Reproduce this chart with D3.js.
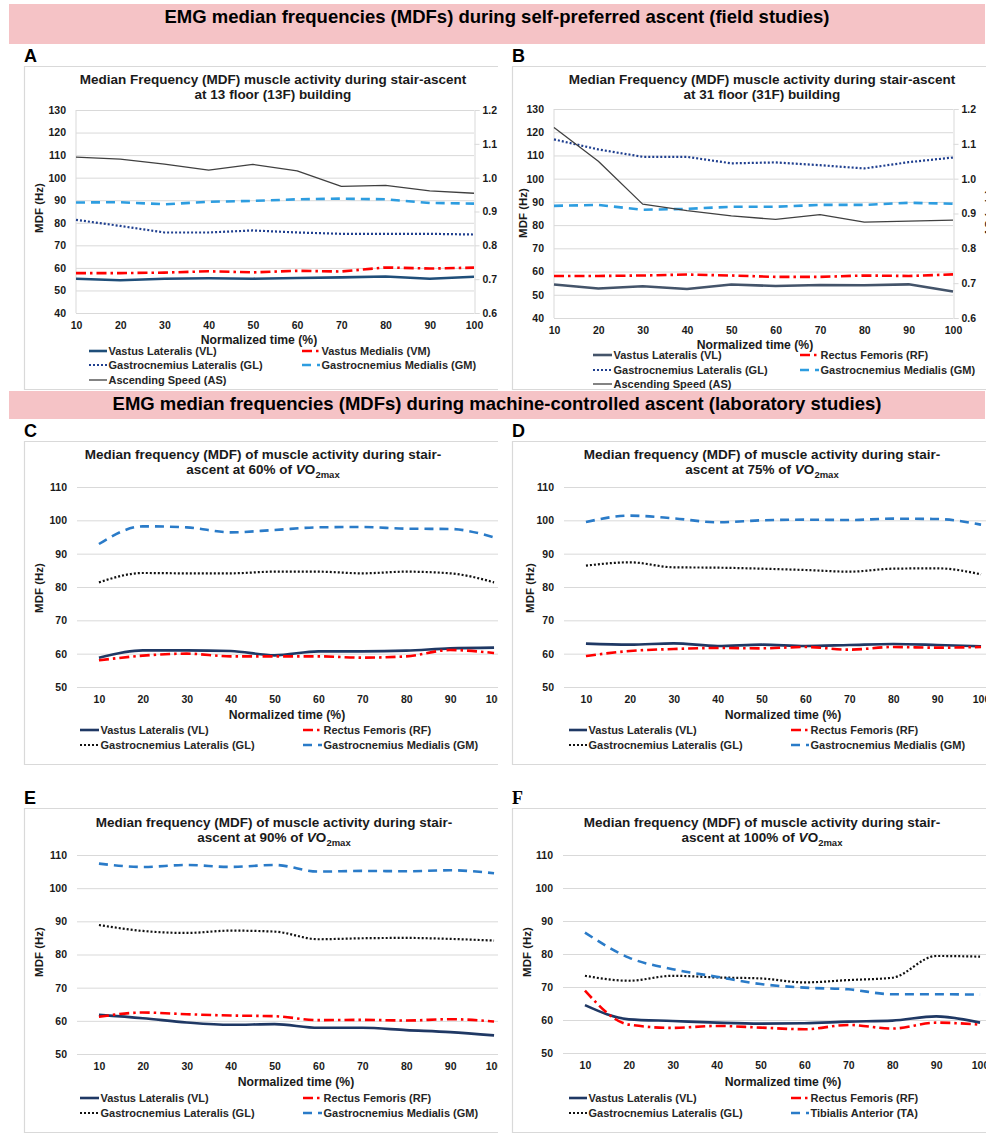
<!DOCTYPE html>
<html><head><meta charset="utf-8">
<script src="https://cdn.jsdelivr.net/npm/d3@7"></script>
<style>
body{margin:0;background:#fff}
text{font-family:"Liberation Sans",Arial,sans-serif;font-weight:bold}
</style>
</head><body><svg id="chart" width="995" height="1135"></svg>
<script>
// ---------- data ----------
const times = [10,20,30,40,50,60,70,80,90,100];
const fieldTicks = [40,50,60,70,80,90,100,110,120,130];
const speedTicks = [0.6,0.7,0.8,0.9,1.0,1.1,1.2];
const labTicks = [50,60,70,80,90,100,110];

// A: 13F building
const aVL = [55.2,54.5,55.2,55.4,55.2,55.5,55.8,56.2,55.2,56.1];
const aVM = [57.7,57.7,57.9,58.5,58.0,58.7,58.4,60.2,59.7,60.1];
const aGL = [81.3,78.6,75.7,75.7,76.6,75.7,75.1,75.1,75.1,74.8];
const aGM = [89.0,89.1,88.2,89.3,89.7,90.4,90.7,90.4,88.8,88.5];
const aAS = [1.061,1.055,1.040,1.022,1.039,1.020,0.974,0.977,0.961,0.954];
// B: 31F building
const bVL = [54.4,52.7,53.7,52.5,54.4,53.8,54.2,54.1,54.5,51.4];
const bRF = [58.1,58.1,58.3,58.7,58.3,57.7,57.7,58.3,58.1,58.8];
const bGL = [116.9,112.6,109.4,109.4,106.6,107.0,105.8,104.4,107.1,109.1];
const bGM = [88.3,88.7,86.6,87.0,87.9,87.9,88.7,88.7,89.6,89.2];
const bAS = [1.147,1.050,0.927,0.908,0.893,0.883,0.897,0.875,0.878,0.881];
// C: 60% VO2max
const cVL = [58.8,61.0,61.0,60.8,59.5,60.7,60.7,60.9,61.6,61.8];
const cRF = [58.0,59.4,60.0,59.2,59.2,59.2,58.8,59.2,61.1,60.2];
const cGL = [81.4,84.2,84.1,84.1,84.6,84.6,84.1,84.6,84.1,81.4];
const cGM = [92.9,98.2,97.9,96.4,97.1,97.9,98.0,97.5,97.4,94.9];
// D: 75% VO2max
const dVL = [63.0,62.7,63.1,62.3,62.7,62.3,62.6,62.9,62.6,62.2];
const dRF = [59.3,60.8,61.4,61.7,61.6,62.0,61.2,62.0,61.8,62.0];
const dGL = [86.4,87.4,85.9,85.8,85.5,85.1,84.6,85.5,85.6,83.8];
const dGM = [99.5,101.4,100.6,99.4,100.0,100.2,100.1,100.5,100.4,98.7];
// E: 90% VO2max
const eVL = [61.8,60.8,59.5,58.8,59.0,57.9,57.9,57.2,56.6,55.6];
const eRF = [61.2,62.5,62.0,61.6,61.4,60.2,60.3,60.1,60.5,59.8];
const eGL = [88.9,87.1,86.5,87.2,86.9,84.6,84.9,85.0,84.7,84.2];
const eGM = [107.4,106.4,107.0,106.4,107.0,105.0,105.2,105.1,105.4,104.5];
// F: 100% VO2max
const fVL = [64.5,60.2,59.7,59.2,58.9,59.0,59.5,59.8,61.1,59.2];
const fRF = [68.9,58.6,57.6,58.2,57.7,57.2,58.5,57.4,59.2,58.6];
const fGL = [73.4,71.9,73.4,72.9,72.6,71.4,72.1,72.8,79.4,79.2];
const fTA = [86.5,78.9,75.4,73.1,70.9,69.8,69.3,67.8,67.8,67.7];

const bannerTexts = [
  "EMG median frequencies (MDFs) during self-preferred ascent (field studies)",
  "EMG median frequencies (MDFs) during machine-controlled ascent (laboratory studies)"
];

// ---------- styles ----------
const ST = {
  vlA: {stroke:"#1f4e79", w:2.6, dash:null},
  vlB: {stroke:"#44546a", w:2.6, dash:null},
  vl:  {stroke:"#1f3864", w:2.6, dash:null},
  rf:  {stroke:"#ff0000", w:2.6, dash:"10,4,2.5,4"},
  glF: {stroke:"#1f3f8f", w:2.2, dash:"2,2"},
  gl:  {stroke:"#111111", w:2.2, dash:"2,2"},
  gmF: {stroke:"#2d9de0", w:2.6, dash:"9,6"},
  gm:  {stroke:"#2a7bc8", w:2.6, dash:"9,6"},
  as:  {stroke:"#404040", w:1.3, dash:null}
};
const GRID = "#d9d9d9";
const TXT = "#1a1a1a";

const svg = d3.select("#chart");
svg.append("rect").attr("width",995).attr("height",1135).attr("fill","#fff");

// banners
const banners = [{y0:4,y1:44,ty:17},{y0:391,y1:419,ty:404}];
banners.forEach((b,i)=>{
  svg.append("rect").attr("x",9).attr("y",b.y0).attr("width",976).attr("height",b.y1-b.y0).attr("fill","#f5c3c6");
  svg.append("text").attr("x",497).attr("y",b.ty).attr("dy","0.35em").attr("text-anchor","middle")
    .attr("font-size",18.5).attr("fill","#000").text(bannerTexts[i]);
});

function drawPanel(p){
  // panel letter
  svg.append("text").attr("x",p.box[0]).attr("y",p.labelY).attr("dy","0.36em")
    .attr("font-size",18).attr("fill","#000")
    .style("font-family", p.serif ? "'Liberation Serif','Times New Roman',serif" : null)
    .text(p.label);

  const cid = "clip"+p.label;
  svg.append("clipPath").attr("id",cid).append("rect")
    .attr("x",p.box[0]-1).attr("y",p.box[1]-1).attr("width",p.box[2]-p.box[0]+1).attr("height",p.box[3]-p.box[1]+2);
  const g = svg.append("g").attr("clip-path",`url(#${cid})`);

  // border (top, left, bottom)
  g.append("path")
    .attr("d",`M${p.box[2]+2},${p.box[1]+0.5}H${p.box[0]+0.5}V${p.box[3]-0.5}H${p.box[2]+2}`)
    .attr("fill","none").attr("stroke","#d9d9d9").attr("stroke-width",1.2);

  // scales
  let x;
  if(p.field){
    x = d3.scaleLinear().domain([times[0],times[times.length-1]]).range([p.xl,p.xr]);
  } else {
    x = d3.scalePoint().domain(times).range([p.xl,p.xl+p.step*times.length]).padding(0.5);
  }
  const yDom = p.field ? [fieldTicks[0],fieldTicks[fieldTicks.length-1]] : [labTicks[0],labTicks[labTicks.length-1]];
  const y = d3.scaleLinear().domain(yDom).range([p.yb,p.yt]);
  const ticks = p.field ? fieldTicks : labTicks;
  const gridR = p.field ? p.xr : p.xl+p.step*times.length;

  // gridlines
  const gridAxis = d3.axisLeft(y).tickValues(ticks).tickSize(-(gridR-p.xl)).tickFormat("");
  const gg = g.append("g").attr("transform",`translate(${p.xl},0)`).call(gridAxis);
  gg.select(".domain").remove();
  gg.selectAll("line").attr("stroke",GRID).attr("stroke-width",1);

  if(p.field){
    g.append("line").attr("x1",p.xl).attr("x2",p.xl).attr("y1",p.yt).attr("y2",p.yb).attr("stroke",GRID);
  }

  // left axis labels
  const ya = g.append("g").attr("transform",`translate(${p.xl},0)`)
    .call(d3.axisLeft(y).tickValues(ticks).tickSize(0).tickPadding(10).tickFormat(d3.format("d")));
  ya.select(".domain").remove();
  ya.selectAll("text").attr("font-size",10.5).attr("fill",TXT).style("font-family",null);

  // right axis (speed)
  let y2 = null;
  if(p.field){
    y2 = d3.scaleLinear().domain([speedTicks[0],speedTicks[speedTicks.length-1]]).range([p.yb,p.yt]);
    const ra = g.append("g").attr("transform",`translate(${p.xr+0.5},0)`)
      .call(d3.axisRight(y2).tickValues(speedTicks).tickSize(5).tickPadding(3).tickFormat(d3.format(".1f")));
    ra.select(".domain").attr("stroke",GRID);
    ra.selectAll("line").attr("stroke",GRID);
    ra.selectAll("text").attr("font-size",10.5).attr("fill",TXT).style("font-family",null);
    // secondary axis title
    g.append("text").attr("transform",`translate(${p.y2TitleX},${p.yTitleY}) rotate(-90)`)
      .attr("text-anchor","middle").attr("dy","0.35em").attr("font-size",11.5).attr("fill",TXT).text("AS (m/s)");
  }

  // x axis labels
  const xa = g.append("g").attr("transform",`translate(0,${p.yb})`)
    .call(d3.axisBottom(x).tickValues(times).tickSize(0).tickPadding(9).tickFormat(d3.format("d")));
  xa.select(".domain").remove();
  xa.selectAll("text").attr("font-size",10.5).attr("fill",TXT).style("font-family",null);

  // axis titles
  g.append("text").attr("x",p.xTitleX).attr("y",p.xTitleY).attr("dy","0.35em").attr("text-anchor","middle")
    .attr("font-size",12.2).attr("fill",TXT).text("Normalized time (%)");
  g.append("text").attr("transform",`translate(${p.yTitleX},${p.yTitleY}) rotate(-90)`)
    .attr("text-anchor","middle").attr("dy","0.35em").attr("font-size",11.5).attr("fill",TXT).text("MDF (Hz)");

  // chart title
  const t1 = g.append("text").attr("x",p.titleX).attr("y",p.titleY).attr("dy","0.35em")
    .attr("text-anchor","middle").attr("font-size",13.5).attr("fill",TXT).text(p.title1);
  const t2 = g.append("text").attr("x",p.titleX).attr("y",p.titleY+15.5).attr("dy","0.35em")
    .attr("text-anchor","middle").attr("font-size",13.5).attr("fill",TXT);
  if(p.vo2){
    t2.append("tspan").text(p.title2 + " ");
    t2.append("tspan").attr("font-style","italic").text("V");
    t2.append("tspan").text("O");
    t2.append("tspan").attr("font-size",9.5).attr("dy","0.35em").text("2max");
  } else {
    t2.text(p.title2);
  }

  // series lines
  const curve = p.field ? d3.curveLinear : d3.curveMonotoneX;
  p.series.forEach(s=>{
    const yy = s.right ? y2 : y;
    const line = d3.line().x((d,i)=>x(times[i])).y(d=>yy(d)).curve(curve);
    g.append("path").datum(s.values).attr("d",line).attr("fill","none")
      .attr("stroke",s.st.stroke).attr("stroke-width",s.st.w)
      .attr("stroke-dasharray",s.st.dash).attr("stroke-linejoin","round");
  });

  // legend
  p.series.forEach((s,i)=>{
    const col = i%2, row = Math.floor(i/2);
    const sx = p.leg.x[col], ly = p.leg.rows[row];
    g.append("line").attr("x1",sx).attr("x2",sx+p.leg.len).attr("y1",ly).attr("y2",ly)
      .attr("stroke",s.st.stroke).attr("stroke-width",s.st.w).attr("stroke-dasharray",s.st.dash);
    g.append("text").attr("x",sx+p.leg.len+1.5).attr("y",ly).attr("dy","0.35em")
      .attr("font-size",11).attr("fill","#262626").text(s.name);
  });
}

const NVL="Vastus Lateralis (VL)", NVM="Vastus Medialis (VM)", NRF="Rectus Femoris (RF)",
      NGL="Gastrocnemius Lateralis (GL)", NGM="Gastrocnemius Medialis (GM)",
      NAS="Ascending Speed (AS)", NTA="Tibialis Anterior (TA)";

const labTitle1 = "Median frequency (MDF) of muscle activity during stair-";

drawPanel({label:"A", labelY:56, box:[24,66,498,390], field:true,
  xl:76, xr:474, yt:110, yb:313,
  title1:"Median Frequency (MDF) muscle activity during stair-ascent", title2:"at 13 floor (13F) building",
  titleX:273, titleY:79, xTitleX:259, xTitleY:340, yTitleX:39, yTitleY:208, y2TitleX:510,
  leg:{x:[89,302], len:18, rows:[351,365,380]},
  series:[{name:NVL,values:aVL,st:ST.vlA},{name:NVM,values:aVM,st:ST.rf},
          {name:NGL,values:aGL,st:ST.glF},{name:NGM,values:aGM,st:ST.gmF},
          {name:NAS,values:aAS,st:ST.as,right:true}]});

drawPanel({label:"B", labelY:56, box:[512,66,986,390], field:true,
  xl:554, xr:953, yt:109, yb:318,
  title1:"Median Frequency (MDF) muscle activity during stair-ascent", title2:"at 31 floor (31F) building",
  titleX:762, titleY:79, xTitleX:755, xTitleY:345, yTitleX:523, yTitleY:213, y2TitleX:989,
  leg:{x:[593,800], len:19, rows:[355,370,384]},
  series:[{name:NVL,values:bVL,st:ST.vlB},{name:NRF,values:bRF,st:ST.rf},
          {name:NGL,values:bGL,st:ST.glF},{name:NGM,values:bGM,st:ST.gmF},
          {name:NAS,values:bAS,st:ST.as,right:true}]});

drawPanel({label:"C", labelY:431, box:[24,441,498,765], field:false,
  xl:77, step:43.9, yt:487, yb:687, vo2:true,
  title1:labTitle1, title2:"ascent at 60% of",
  titleX:263, titleY:454, xTitleX:287, xTitleY:715, yTitleX:39, yTitleY:588,
  leg:{x:[80,303], len:19, rows:[730,745]},
  series:[{name:NVL,values:cVL,st:ST.vl},{name:NRF,values:cRF,st:ST.rf},
          {name:NGL,values:cGL,st:ST.gl},{name:NGM,values:cGM,st:ST.gm}]});

drawPanel({label:"D", labelY:431, box:[512,441,986,765], field:false,
  xl:564, step:43.9, yt:487, yb:687, vo2:true,
  title1:labTitle1, title2:"ascent at 75% of",
  titleX:762, titleY:454, xTitleX:783, xTitleY:715, yTitleX:530, yTitleY:588,
  leg:{x:[569,791], len:18, rows:[730,745]},
  series:[{name:NVL,values:dVL,st:ST.vl},{name:NRF,values:dRF,st:ST.rf},
          {name:NGL,values:dGL,st:ST.gl},{name:NGM,values:dGM,st:ST.gm}]});

drawPanel({label:"E", labelY:798, box:[24,808,498,1133], field:false,
  xl:77, step:43.9, yt:855, yb:1054, vo2:true,
  title1:labTitle1, title2:"ascent at 90% of",
  titleX:274, titleY:822, xTitleX:296, xTitleY:1082, yTitleX:39, yTitleY:952,
  leg:{x:[80,303], len:19, rows:[1098,1113]},
  series:[{name:NVL,values:eVL,st:ST.vl},{name:NRF,values:eRF,st:ST.rf},
          {name:NGL,values:eGL,st:ST.gl},{name:NGM,values:eGM,st:ST.gm}]});

drawPanel({label:"F", labelY:798, serif:true, box:[512,808,986,1133], field:false,
  xl:563, step:43.9, yt:855, yb:1053, vo2:true,
  title1:labTitle1, title2:"ascent at 100% of",
  titleX:762, titleY:822, xTitleX:783, xTitleY:1082, yTitleX:527, yTitleY:952,
  leg:{x:[569,791], len:18, rows:[1098,1113]},
  series:[{name:NVL,values:fVL,st:ST.vl},{name:NRF,values:fRF,st:ST.rf},
          {name:NGL,values:fGL,st:ST.gl},{name:NTA,values:fTA,st:ST.gm}]});
</script>
</body></html>
